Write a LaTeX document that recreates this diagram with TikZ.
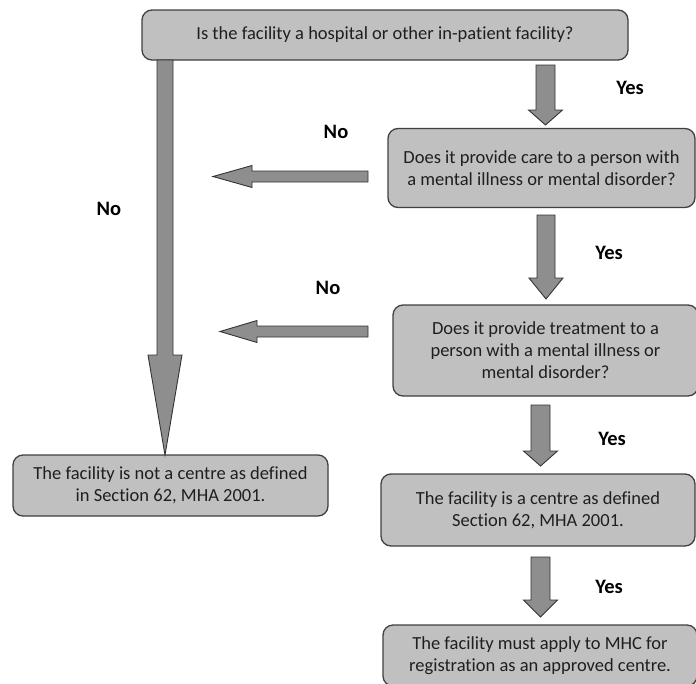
\documentclass[tikz,border=0pt]{standalone}
\usepackage{fontspec}
\setmainfont[Ligatures=NoCommon]{Carlito}
\begin{document}
\begin{tikzpicture}[x=1pt,y=-1pt,
  box/.style={draw=black!75,line width=1.3pt,fill=boxgray,rounded corners=10pt,
    align=center,inner sep=0pt,font=\fontsize{18.5}{22}\selectfont,text=black!88},
  blockarrow/.style={draw=black!80,line width=0.9pt,fill=arrgray,line join=miter},
  lbl/.style={font=\fontsize{20.5}{22}\selectfont\bfseries,text=black}]
\definecolor{boxgray}{HTML}{C0C0C0}
\definecolor{arrgray}{HTML}{8E8E8E}
\useasboundingbox (0,0) rectangle (696,683);
% boxes
\node[box,minimum width=486pt,minimum height=50pt] (q1) at (385,35) {Is the facility a hospital or other in-patient facility?};
\node[box,minimum width=307pt,minimum height=79pt] (q2) at (541.5,168) {Does it provide care to a person with\\a mental illness or mental disorder?};
\node[box,minimum width=305pt,minimum height=91pt] (q3) at (545.5,350.5) {Does it provide treatment to a\\person with a mental illness or\\mental disorder?};
\node[box,minimum width=315pt,minimum height=61pt] (notc) at (170.5,485.5) {The facility is not a centre as defined\\in Section 62, MHA 2001.};
\node[box,minimum width=314pt,minimum height=72pt] (isc) at (538,510) {The facility is a centre as defined\\Section 62, MHA 2001.};
\node[box,minimum width=314pt,minimum height=61pt] (apply) at (540,655.5) {The facility must apply to MHC for\\registration as an approved centre.};
% block arrows (down)
\newcommand\downarrowblk[6]{% x, y0, yh, yt, hs, hh
  \draw[blockarrow] (#1-#5,#2) -- (#1+#5,#2) -- (#1+#5,#3) -- (#1+#6,#3) -- (#1,#4)
    -- (#1-#6,#3) -- (#1-#5,#3) -- cycle;}
\newcommand\leftarrowblk[6]{% y, x0, xh, xt, hs, hh
  \draw[blockarrow] (#2,#1-#5) -- (#2,#1+#5) -- (#3,#1+#5) -- (#3,#1+#6) -- (#4,#1)
    -- (#3,#1-#6) -- (#3,#1-#5) -- cycle;}
\downarrowblk{165}{60}{355}{455}{8}{17}
\downarrowblk{545.5}{65}{110}{125}{9.5}{17}
\downarrowblk{546}{215}{278}{299}{9}{17}
\downarrowblk{540.5}{405}{451}{466}{9.5}{17}
\downarrowblk{540.5}{557}{600}{617}{9.5}{17}
\leftarrowblk{176.5}{368}{252}{213}{5.5}{11}
\leftarrowblk{331.5}{368}{257}{220}{5.5}{11}
% labels
\node[lbl] (y1) at (630,88) {Yes};
\node[lbl] (n1) at (336,132) {No};
\node[lbl] (n0) at (109,209) {No};
\node[lbl] (y2) at (609,253) {Yes};
\node[lbl] (n2) at (328,288) {No};
\node[lbl] (y3) at (612,439) {Yes};
\node[lbl] (y4) at (609,587) {Yes};
\end{tikzpicture}
\end{document}
